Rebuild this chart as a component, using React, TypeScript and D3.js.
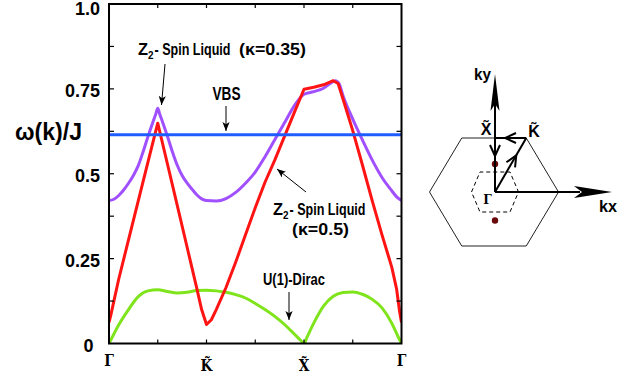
import * as d3 from 'd3';

// path through the Brillouin zone: Γ – K̃ – X̃ – Γ (one unit per segment)
const kSym = [0, 1, 2, 3];
const kSymLabels = ['Γ', 'K\u0303', 'X\u0303', 'Γ'];
const kMinor = [0.5, 1, 1.5, 2, 2.5];

const yMajor = [0, 0.25, 0.5, 0.75, 1.0];
const yMajorLabels = ['0', '0.25', '0.5', '0.75', '1.0'];
const yMinor = [0.125, 0.25, 0.375, 0.5, 0.625, 0.75, 0.875];

// VBS (flat band)
const kVbs = [0, 3];
const wVbs = [0.615, 0.615];

// Z2 spin liquid, kappa = 0.35 (purple)
const kZ035 = [0, 0.05, 0.1, 0.15, 0.2, 0.25, 0.3, 0.35, 0.4, 0.45, 0.48, 0.5, 0.52, 0.55, 0.6, 0.65, 0.7, 0.75, 0.8, 0.85, 0.9, 0.95, 1.0, 1.1, 1.2, 1.3, 1.4, 1.5, 1.6, 1.7, 1.8, 1.9, 2.0, 2.1, 2.2, 2.28, 2.32, 2.36, 2.4, 2.5, 2.6, 2.7, 2.8, 2.9, 2.95, 3.0];
const wZ035 = [0.421, 0.425, 0.436, 0.452, 0.472, 0.495, 0.524, 0.565, 0.61, 0.652, 0.676, 0.693, 0.676, 0.652, 0.61, 0.565, 0.525, 0.495, 0.473, 0.455, 0.438, 0.426, 0.421, 0.42, 0.427, 0.445, 0.472, 0.505, 0.55, 0.6, 0.65, 0.7, 0.734, 0.742, 0.752, 0.768, 0.774, 0.765, 0.73, 0.661, 0.599, 0.54, 0.489, 0.45, 0.432, 0.421];

// Z2 spin liquid, kappa = 0.5 (red)
const kZ05 = [0, 0.02, 0.05, 0.1, 0.2, 0.3, 0.4, 0.5, 0.6, 0.7, 0.8, 0.9, 0.95, 1.0, 1.05, 1.1, 1.2, 1.3, 1.4, 1.5, 1.6, 1.7, 1.8, 1.9, 2.0, 2.1, 2.2, 2.3, 2.35, 2.4, 2.5, 2.6, 2.7, 2.8, 2.9, 2.95, 2.98, 3.0];
const wZ05 = [0.062, 0.085, 0.125, 0.19, 0.305, 0.42, 0.535, 0.649, 0.528, 0.407, 0.285, 0.163, 0.1, 0.056, 0.07, 0.1, 0.165, 0.24, 0.32, 0.4, 0.475, 0.54, 0.61, 0.68, 0.749, 0.755, 0.762, 0.774, 0.766, 0.72, 0.627, 0.525, 0.42, 0.32, 0.225, 0.16, 0.095, 0.062];

// U(1) Dirac (green)
const kDirac = [0, 0.05, 0.1, 0.2, 0.3, 0.4, 0.5, 0.6, 0.7, 0.8, 0.9, 1.0, 1.1, 1.2, 1.3, 1.4, 1.5, 1.6, 1.7, 1.8, 1.9, 1.97, 2.0, 2.03, 2.1, 2.2, 2.3, 2.4, 2.5, 2.6, 2.7, 2.8, 2.9, 2.97, 3.0];
const wDirac = [0, 0.028, 0.055, 0.1, 0.138, 0.155, 0.158, 0.153, 0.149, 0.151, 0.156, 0.157, 0.155, 0.151, 0.144, 0.134, 0.118, 0.1, 0.08, 0.056, 0.028, 0.008, 0, 0.018, 0.06, 0.11, 0.139, 0.15, 0.152, 0.145, 0.13, 0.105, 0.06, 0.017, 0];

const SANS = 'Liberation Sans, Arial, Helvetica, sans-serif';
const SERIF = 'DejaVu Serif, serif';

const x = d3.scaleLinear().domain([0, 3]).range([109, 401.5]);
const y = d3.scaleLinear().domain([0, 1]).range([343.5, 4]);

const pts = (ks: number[], ws: number[]) => ks.map((k, i) => [k, ws[i]] as [number, number]);

const smooth = d3
  .line<[number, number]>()
  .x((d) => x(d[0]))
  .y((d) => y(d[1]))
  .curve(d3.curveMonotoneX);

const straight = d3
  .line<[number, number]>()
  .x((d) => x(d[0]))
  .y((d) => y(d[1]));

// open chevron arrow head with tip at (tx,ty), pointing along (ux,uy)
const chevron = (tx: number, ty: number, ux: number, uy: number, len = 11, half = 5) => {
  const n = Math.hypot(ux, uy);
  const ax = ux / n;
  const ay = uy / n;
  const bx = tx - ax * len;
  const by = ty - ay * len;
  return `M${bx - ay * half},${by + ax * half} L${tx},${ty} L${bx + ay * half},${by - ax * half}`;
};

// inset geometry
const G = { x: 495, y: 192 };
const hexR = 64.5;
const hexH = 54;
const hexCx = 494;
const Kt = { x: hexCx + hexR / 2, y: G.y - hexH };
const Xt = { x: G.x, y: G.y - hexH };

const bigHex = [
  [hexCx - hexR, G.y],
  [hexCx - hexR / 2, G.y - hexH],
  [hexCx + hexR / 2, G.y - hexH],
  [hexCx + hexR, G.y],
  [hexCx + hexR / 2, G.y + hexH],
  [hexCx - hexR / 2, G.y + hexH],
]
  .map((p) => p.join(','))
  .join(' ');

const smallHex = [
  [G.x - 23.5, G.y],
  [G.x - 15, G.y - 20],
  [G.x + 15, G.y - 20],
  [G.x + 23.5, G.y],
  [G.x + 15, G.y + 20],
  [G.x - 15, G.y + 20],
]
  .map((p) => p.join(','))
  .join(' ');

// narrow bold text: laid out at a fixed natural width, then squeezed horizontally
const Narrow = ({
  x0,
  base,
  width,
  natural,
  size = 17,
  children,
}: {
  x0: number;
  base: number;
  width: number;
  natural: number;
  size?: number;
  children: string;
}) => (
  <text
    transform={`translate(${x0},${base}) scale(${width / natural},1)`}
    fontSize={size}
    fontWeight="bold"
    textLength={natural}
    lengthAdjust="spacingAndGlyphs"
  >
    {children}
  </text>
);

// "Z2- Spin Liquid" with a subscript
const Z2Label = ({ x0, base }: { x0: number; base: number }) => (
  <g>
    <Narrow x0={x0} base={base} width={10} natural={11}>
      Z
    </Narrow>
    <Narrow x0={x0 + 10} base={base + 4} width={5.5} natural={6} size={11}>
      2
    </Narrow>
    <Narrow x0={x0 + 16.5} base={base} width={76} natural={103}>
      - Spin Liquid
    </Narrow>
  </g>
);

export default function App() {
  const dirK = { x: Kt.x - G.x, y: Kt.y - G.y };
  const tGK = 0.68;
  return (
    <svg
      width={639}
      height={376}
      style={{ position: 'absolute', left: 0, top: 0, background: '#fff' }}
      fontFamily={SANS}
    >
      <defs>
        <marker
          id="ah"
          viewBox="0 0 10 10"
          refX="10"
          refY="5"
          markerWidth="9"
          markerHeight="9"
          markerUnits="userSpaceOnUse"
          orient="auto"
        >
          <path d="M0,1 L10,5 L0,9 L2.5,5 Z" fill="#000" />
        </marker>
        <clipPath id="plot">
          <rect x={x(0)} y={y(1)} width={x(3) - x(0)} height={y(0) - y(1)} />
        </clipPath>
      </defs>

      {/* curves */}
      <g clipPath="url(#plot)" fill="none" strokeWidth={3} strokeLinejoin="round">
        <path d={smooth(pts(kDirac, wDirac)) ?? ''} stroke="#7fe41c" />
        <path d={smooth(pts(kZ035, wZ035)) ?? ''} stroke="#a050ff" />
        <path d={straight(pts(kZ05, wZ05)) ?? ''} stroke="#ff1414" />
        <path d={straight(pts(kVbs, wVbs)) ?? ''} stroke="#1f5cff" />
      </g>

      {/* frame */}
      <rect
        x={x(0)}
        y={y(1)}
        width={x(3) - x(0)}
        height={y(0) - y(1)}
        fill="none"
        stroke="#000"
        strokeWidth={2}
      />
      <g stroke="#000" strokeWidth={1.2}>
        {yMinor.map((v) => (
          <g key={'yt' + v}>
            <line x1={x(0)} x2={x(0) + 5} y1={y(v)} y2={y(v)} />
            <line x1={x(3)} x2={x(3) - 5} y1={y(v)} y2={y(v)} />
          </g>
        ))}
        {kMinor.map((k) => (
          <g key={'xt' + k}>
            <line x1={x(k)} x2={x(k)} y1={y(0)} y2={y(0) - 4} />
            <line x1={x(k)} x2={x(k)} y1={y(1)} y2={y(1) + 4} />
          </g>
        ))}
      </g>

      {/* y tick labels */}
      <g fontSize={18} fontWeight="bold" textAnchor="end">
        {yMajor.map((v, i) => (
          <text
            key={'yl' + v}
            x={yMajorLabels[i] === '0' ? 93.5 : 100}
            y={v === 1 ? 14.5 : y(v) + 8}
          >
            {yMajorLabels[i]}
          </text>
        ))}
      </g>
      <text x={15} y={140} fontSize={23} fontWeight="bold" textLength={67} lengthAdjust="spacingAndGlyphs">
        ω(k)/J
      </text>

      {/* x tick labels */}
      <g fontFamily={SERIF} fontSize={17} fontWeight="bold" textAnchor="middle">
        {kSym.map((k, i) => (
          <text
            key={'xl' + i}
            x={x(k)}
            y={kSymLabels[i] === 'Γ' ? 366 : 371.5}
            transform={`translate(${x(k)},0) scale(0.8,1) translate(${-x(k)},0)`}
          >
            {kSymLabels[i]}
          </text>
        ))}
      </g>

      {/* annotations */}
      <Z2Label x0={138} base={55} />
      <Z2Label x0={273} base={215} />
      <g fontSize={17} fontWeight="bold">
        <text x={239} y={55} textLength={67} lengthAdjust="spacingAndGlyphs">
          (κ=0.35)
        </text>
        <text x={212.5} y={100} fontSize={18} textLength={28} lengthAdjust="spacingAndGlyphs">
          VBS
        </text>
        <text x={292} y={235} textLength={57} lengthAdjust="spacingAndGlyphs">
          (κ=0.5)
        </text>
        <text x={263} y={285} textLength={62} lengthAdjust="spacingAndGlyphs">
          U(1)-Dirac
        </text>
      </g>
      <g stroke="#000" strokeWidth={1} markerEnd="url(#ah)">
        <line x1={165} y1={64} x2={161.5} y2={105} />
        <line x1={226} y1={106} x2={226} y2={131} />
        <line x1={306} y1={192} x2={277} y2={169} />
        <line x1={289} y1={292} x2={289} y2={320} />
      </g>

      {/* Brillouin zone inset */}
      <polygon points={bigHex} fill="none" stroke="#222" strokeWidth={1} />
      <polygon points={smallHex} fill="none" stroke="#000" strokeWidth={1} strokeDasharray="4,3" />
      <circle cx={G.x} cy={164} r={3.2} fill="#6a0a0a" />
      <circle cx={G.x} cy={220.5} r={3.2} fill="#6a0a0a" />
      <g stroke="#000" strokeWidth={2} fill="none">
        <line x1={G.x} y1={G.y} x2={G.x} y2={100} />
        <line x1={G.x} y1={G.y} x2={580} y2={G.y} />
        <line x1={Xt.x} y1={Xt.y} x2={Kt.x} y2={Kt.y} />
        <line x1={G.x} y1={G.y} x2={Kt.x} y2={Kt.y} />
        <path d={chevron(G.x, 156, 0, 1)} />
        <path d={chevron(505, Xt.y, -1, 0)} />
        <path d={chevron(G.x + dirK.x * tGK, G.y + dirK.y * tGK, dirK.x, dirK.y)} />
      </g>
      <path d={`M${G.x},74 L${G.x - 4.5},111 L${G.x},104 L${G.x + 4.5},111 Z`} fill="#000" />
      <path d={`M612,${G.y} L574,${G.y - 6} L582,${G.y} L574,${G.y + 6} Z`} fill="#000" />

      <g fontWeight="bold">
        <text x={474} y={80} fontSize={16} textLength={17} lengthAdjust="spacingAndGlyphs">
          ky
        </text>
        <text x={599} y={211.5} fontSize={16} textLength={18} lengthAdjust="spacingAndGlyphs">
          kx
        </text>
        <text x={486} y={135} fontSize={16} textAnchor="middle">
          {'X\u0303'}
        </text>
        <text x={534} y={136.5} fontSize={16} textAnchor="middle">
          {'K\u0303'}
        </text>
      </g>
      <text x={487.5} y={203.5} fontFamily={SERIF} fontWeight="bold" fontSize={12} textAnchor="middle">
        Γ
      </text>
    </svg>
  );
}
